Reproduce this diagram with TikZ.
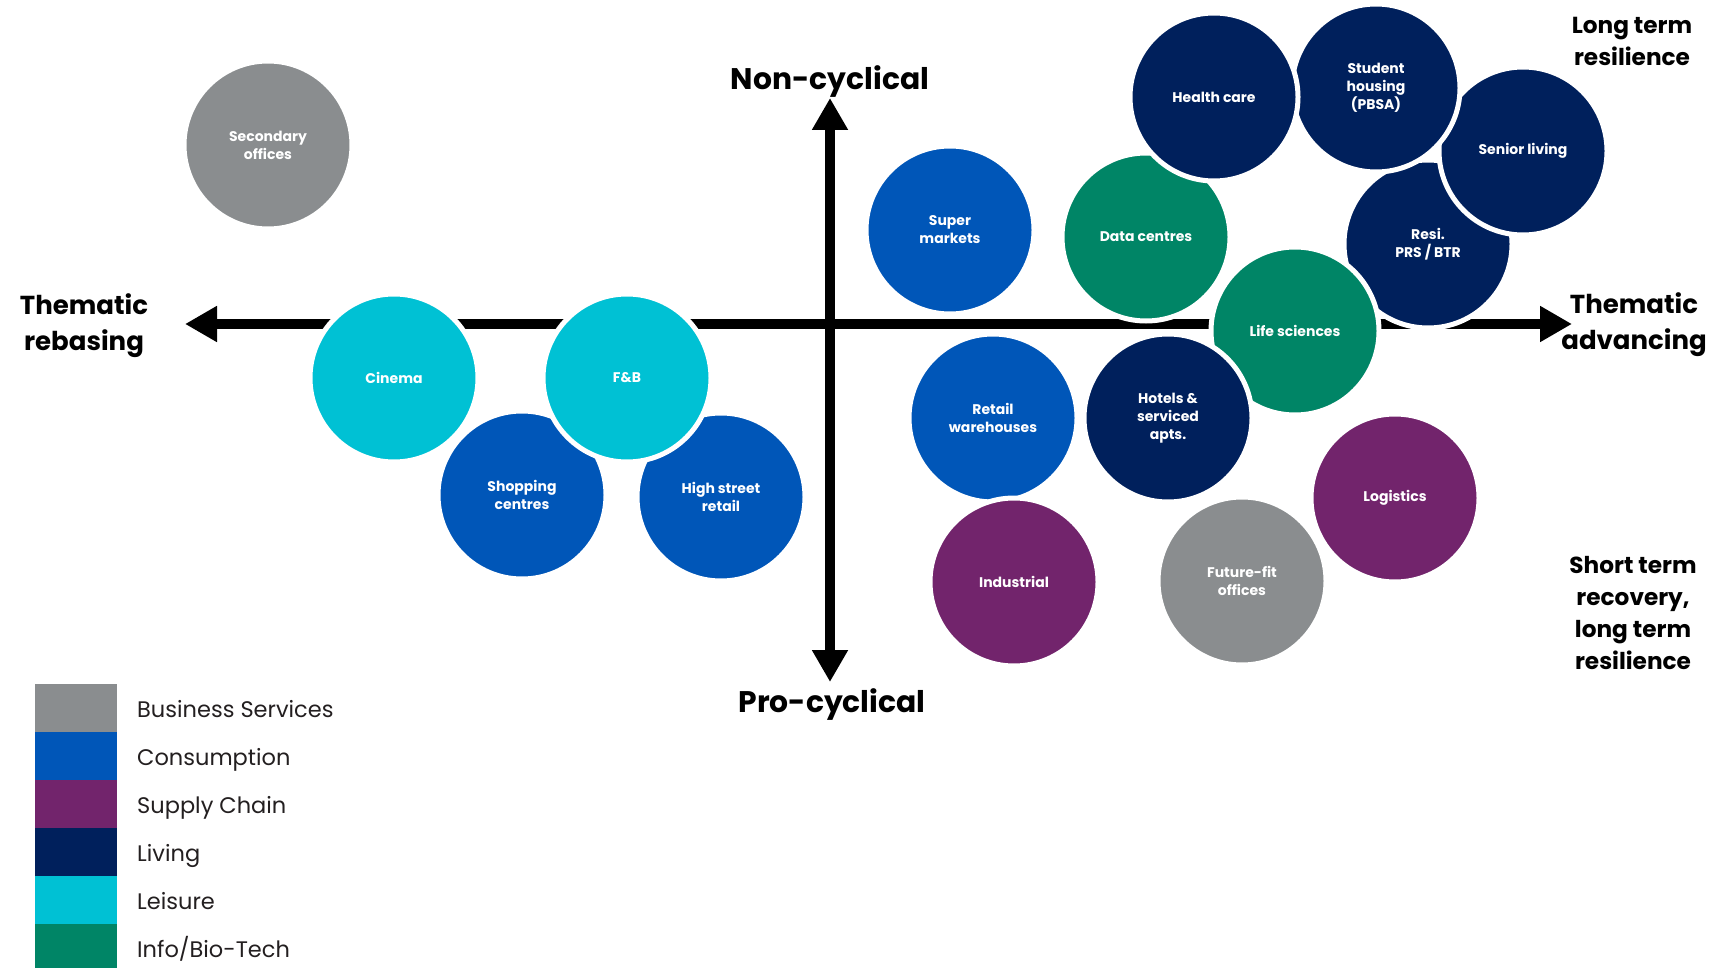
\documentclass[tikz,border=0pt]{standalone}
\usepackage{fontspec}
\setmainfont{Poppins}
\usetikzlibrary{arrows.meta}
\definecolor{bizgrey}{HTML}{8A8D8F}
\definecolor{consblue}{HTML}{0056B8}
\definecolor{supplypurple}{HTML}{72246C}
\definecolor{livingnavy}{HTML}{00205C}
\definecolor{leisurecyan}{HTML}{00C1D4}
\definecolor{techgreen}{HTML}{008566}
\definecolor{legendink}{HTML}{231F20}
\tikzset{x=1pt,y=-1pt}
\tikzset{
        bubble/.style={circle,draw=white,line width=5pt,minimum size=168pt,inner sep=0pt,
            text=white,align=center,font=\bfseries\fontsize{14}{18}\selectfont},
        axisline/.style={line width=10pt,{Triangle[length=32pt,width=34pt]}-{Triangle[length=32pt,width=34pt]}},
        axislabel/.style={inner sep=0pt,anchor=base,font=\bfseries\fontsize{29.8}{36}\selectfont},
        sidelabel/.style={inner sep=0pt,anchor=base,align=center,font=\bfseries\fontsize{26}{36}\selectfont},
        cornerlabel/.style={inner sep=0pt,anchor=base,align=center,font=\bfseries\fontsize{23.2}{32}\selectfont},
        swatch/.style={inner sep=0pt,minimum width=82pt,minimum height=48.5pt},
        legendtext/.style={inner sep=0pt,anchor=base west,text=legendink,font=\fontsize{22.5}{28}\selectfont}
    }
\begin{document}
\begin{tikzpicture}
                        \useasboundingbox (0,0) rectangle (1729,968);
                        \coordinate (west) at (185,324);
                        \coordinate (east) at (1572,324);
                        \coordinate (north) at (830,98);
                        \coordinate (south) at (830,682);
                        \draw[axisline] (west) -- (east);
                        \draw[axisline] (south) -- (north);
                        \node[axislabel] (noncyc) at (830,90) {Non-cyclical};
                        \node[axislabel] (procyc) at (832,712) {Pro-cyclical};
                        \node[sidelabel] (rebasing) at (84,350) {Thematic\\rebasing};
                        \node[sidelabel] (advancing) at (1634,349) {Thematic\\advancing};
                        \node[cornerlabel] (longterm) at (1632,66) {Long term\\resilience};
                        \node[cornerlabel] (shortterm) at (1633,669) {Short term\\recovery,\\long term\\resilience};
                        \node[bubble,fill=bizgrey] (secoff) at (268,145) {Secondary\\offices};
                        \node[bubble,fill=consblue] (supmkt) at (950,230) {Super\\markets};
                        \node[bubble,fill=techgreen] (datac) at (1146,237) {Data centres};
                        \node[bubble,fill=livingnavy] (resi) at (1428,244) {Resi.\\PRS / BTR};
                        \node[bubble,fill=livingnavy] (senior) at (1523,151) {Senior living};
                        \node[bubble,fill=livingnavy] (student) at (1376,88) {Student\\housing\\(PBSA)};
                        \node[bubble,fill=livingnavy] (health) at (1214,97) {Health care};
                        \node[bubble,fill=techgreen] (lifesci) at (1295,331) {Life sciences};
                        \node[bubble,fill=consblue] (retwh) at (993,418) {Retail\\warehouses};
                        \node[bubble,fill=livingnavy] (hotels) at (1168,418) {Hotels \&\\serviced\\apts.};
                        \node[bubble,fill=supplypurple] (indus) at (1014,582) {Industrial};
                        \node[bubble,fill=bizgrey] (futoff) at (1242,581) {Future-fit\\offices};
                        \node[bubble,fill=supplypurple] (logist) at (1395,498) {Logistics};
                        \node[bubble,fill=consblue] (shopc) at (522,495) {Shopping\\centres};
                        \node[bubble,fill=consblue] (highst) at (721,497) {High street\\retail};
                        \node[bubble,fill=leisurecyan] (cinema) at (394,378) {Cinema};
                        \node[bubble,fill=leisurecyan] (fnb) at (627,378) {F\&B};
                        \foreach \col/\lab [count=\i from 0] in {bizgrey/Business Services,consblue/Consumption,
                            supplypurple/Supply Chain,livingnavy/Living,leisurecyan/Leisure,techgreen/{Info/Bio-Tech}}
                        {
                            \node[swatch,fill=\col] (sw\i) at (76,708+48*\i) {};
                            \node[legendtext] (lab\i) at (137,717+48*\i) {\lab};
                        }
                    \end{tikzpicture}
\end{document}
